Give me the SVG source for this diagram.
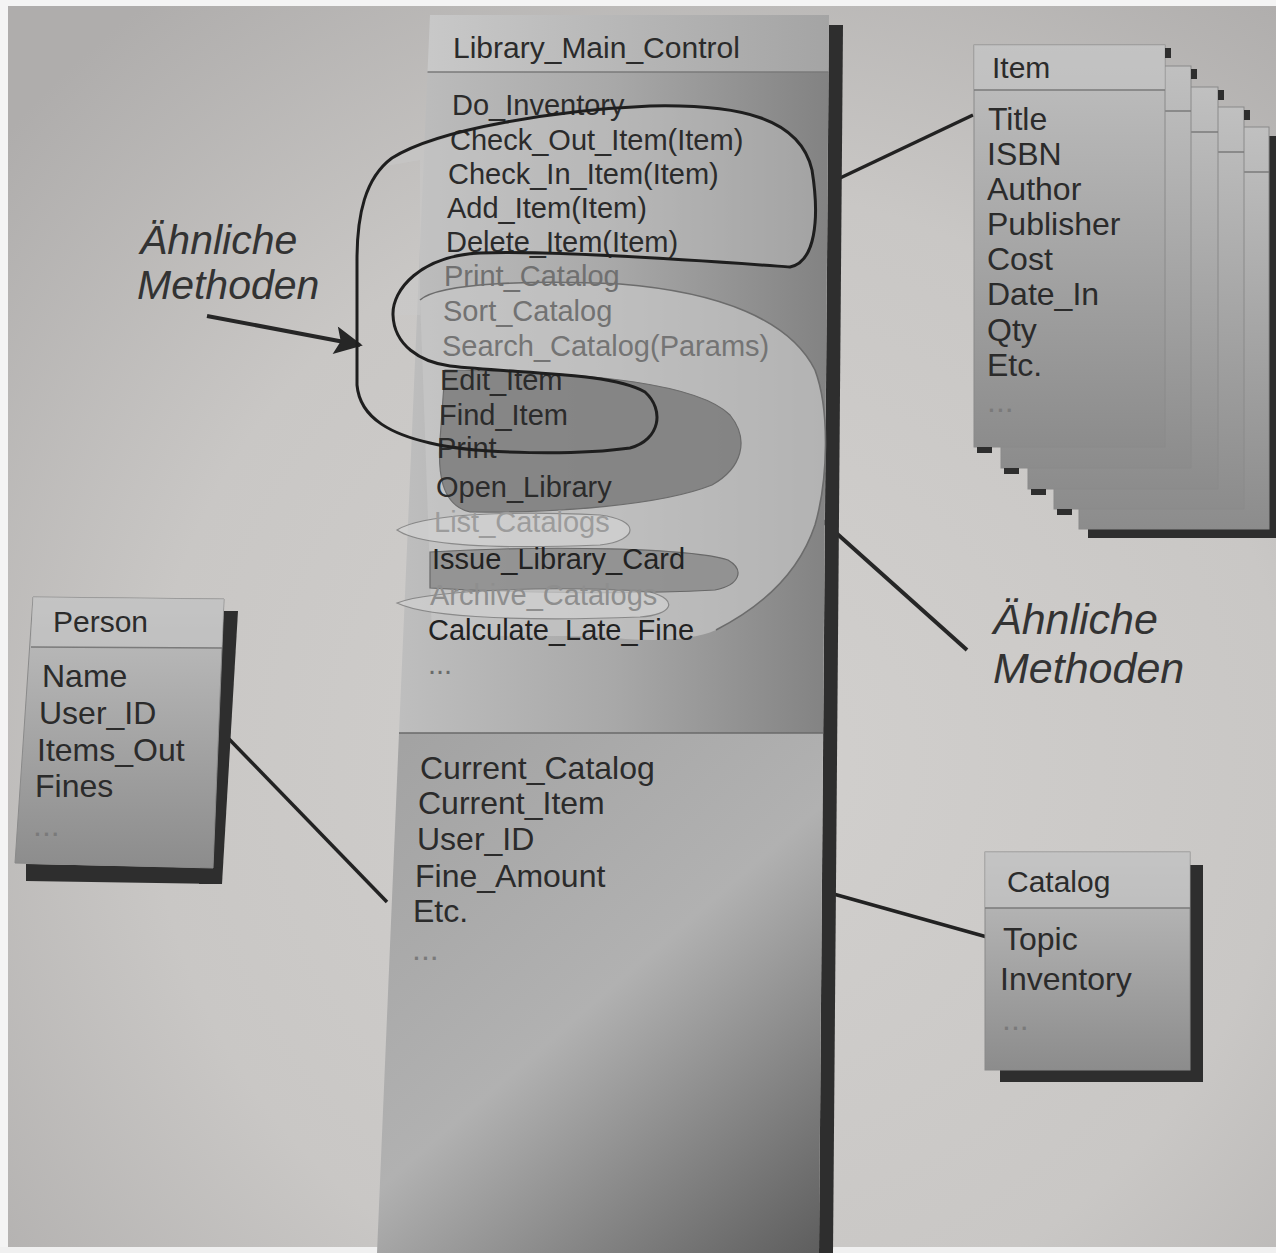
<svg xmlns="http://www.w3.org/2000/svg" width="1276" height="1253" viewBox="0 0 1276 1253">
<defs>
<radialGradient id="bg" gradientUnits="userSpaceOnUse" cx="720" cy="760" r="950">
<stop offset="0" stop-color="#d2d0ce"/><stop offset="0.6" stop-color="#c9c7c5"/><stop offset="1" stop-color="#afadac"/>
</radialGradient>
<linearGradient id="hdr" gradientUnits="userSpaceOnUse" x1="430" y1="0" x2="830" y2="0">
<stop offset="0" stop-color="#c8c8c8"/><stop offset="1" stop-color="#a4a4a4"/>
</linearGradient>
<linearGradient id="meth" gradientUnits="userSpaceOnUse" x1="400" y1="0" x2="830" y2="0">
<stop offset="0" stop-color="#bebebe"/><stop offset="0.5" stop-color="#a8a8a8"/><stop offset="1" stop-color="#828282"/>
</linearGradient>
<linearGradient id="attr" gradientUnits="userSpaceOnUse" x1="380" y1="733" x2="830" y2="1253">
<stop offset="0" stop-color="#a2a2a2"/><stop offset="0.5" stop-color="#b1b1b1"/><stop offset="1" stop-color="#5c5c5c"/>
</linearGradient>
<linearGradient id="card" x1="0" y1="0" x2="0" y2="1">
<stop offset="0" stop-color="#c0c0c0"/><stop offset="1" stop-color="#8c8c8c"/>
</linearGradient>
<marker id="ah" viewBox="0 0 10 10" refX="9" refY="5" markerWidth="8" markerHeight="7" orient="auto" markerUnits="strokeWidth">
<path d="M0,0 L10,5 L0,10 L2,5 Z" fill="#262626"/>
</marker>
<style>
.t{font-family:"Liberation Sans",Arial,sans-serif;fill:#2b2b2b}
.m{font-size:29px}
.a{font-size:32px}
.h{font-size:30px}
.lbl{font-size:41px;font-style:italic;fill:#333}
.sh{fill:#2e2e2e}
.sep{stroke:#7a7a7a;stroke-width:1.5;fill:none}
.con{stroke:#222;stroke-width:3.5;fill:none}
.edge{stroke:#8a8a8a;stroke-width:1;fill:url(#card)}
</style>
</defs>
<rect x="0" y="0" width="1276" height="1253" fill="url(#bg)"/>
<rect x="0" y="0" width="1276" height="6" fill="#f4f4f4"/>
<rect x="0" y="0" width="8" height="1253" fill="#f4f4f4"/>
<rect x="0" y="1247" width="1276" height="6" fill="#f0f0f0"/>

<g id="connectors">
<line class="con" x1="838" y1="179" x2="973" y2="115"/>
<line class="con" x1="229" y1="739" x2="387" y2="902"/>
<line class="con" x1="830" y1="893" x2="987" y2="937"/>
<line x1="207" y1="316" x2="360" y2="345" stroke="#262626" stroke-width="4" marker-end="url(#ah)"/>
<line x1="967" y1="650" x2="796" y2="497" stroke="#262626" stroke-width="4" marker-end="url(#ah)"/>
</g>

<g id="item">
<g id="item-card-4"><rect x="1088" y="136" width="192" height="402" class="sh"/><rect x="1079" y="127" width="190" height="402" class="edge"/><line class="sep" x1="1079" y1="172" x2="1269" y2="172"/></g>
<g id="item-card-3"><rect x="1054" y="107" width="190" height="402" class="edge"/><line class="sep" x1="1054" y1="152" x2="1244" y2="152"/><rect x="1244" y="110" width="6" height="10" class="sh"/><rect x="1057" y="509" width="15" height="6" class="sh"/></g>
<g id="item-card-2"><rect x="1028" y="87" width="190" height="402" class="edge"/><line class="sep" x1="1028" y1="132" x2="1218" y2="132"/><rect x="1218" y="90" width="6" height="10" class="sh"/><rect x="1031" y="489" width="15" height="6" class="sh"/></g>
<g id="item-card-1"><rect x="1001" y="66" width="190" height="402" class="edge"/><line class="sep" x1="1001" y1="111" x2="1191" y2="111"/><rect x="1191" y="69" width="6" height="10" class="sh"/><rect x="1004" y="468" width="15" height="6" class="sh"/></g>
<g id="item-card-0"><rect x="974" y="45" width="191" height="402" class="edge"/><rect x="1165" y="48" width="6" height="10" class="sh"/><rect x="977" y="447" width="15" height="6" class="sh"/>
<rect x="974" y="45" width="191" height="45" fill="#c4c4c4" opacity="0.6"/>
<line class="sep" x1="974" y1="90" x2="1165" y2="90"/>
<text class="t h" x="992" y="78">Item</text>
<text class="t a" x="988" y="130">Title</text>
<text class="t a" x="987" y="165">ISBN</text>
<text class="t a" x="987" y="200">Author</text>
<text class="t a" x="987" y="235">Publisher</text>
<text class="t a" x="987" y="270">Cost</text>
<text class="t a" x="987" y="305">Date_In</text>
<text class="t a" x="987" y="341">Qty</text>
<text class="t a" x="987" y="376">Etc.</text>
<text class="t a" x="987" y="412" style="fill:#7a7a7a">...</text>
</g>
</g>

<g id="person">
<polygon class="sh" points="213,611 238,611 222,884 199,884"/>
<polygon class="sh" points="26,864 222,868 222,884 26,881"/>
<polygon points="33,597 224,599 213,868 15,863" fill="url(#card)" stroke="#8a8a8a"/>
<polygon points="33,597 224,599 222,648 31,647" fill="#c6c6c6" opacity="0.6"/>
<line class="sep" x1="31" y1="647" x2="222" y2="648"/>
<text class="t h" x="53" y="632">Person</text>
<text class="t a" x="42" y="687">Name</text>
<text class="t a" x="39" y="724">User_ID</text>
<text class="t a" x="37" y="761">Items_Out</text>
<text class="t a" x="35" y="797">Fines</text>
<text class="t a" x="33" y="836" style="fill:#7a7a7a">...</text>
</g>

<g id="catalog">
<rect x="1190" y="865" width="13" height="217" class="sh"/>
<rect x="1000" y="1068" width="203" height="14" class="sh"/>
<rect x="985" y="852" width="205" height="218" fill="url(#card)" stroke="#8a8a8a"/>
<rect x="985" y="852" width="205" height="56" fill="#c6c6c6" opacity="0.6"/>
<line class="sep" x1="985" y1="908" x2="1190" y2="908"/>
<text class="t h" x="1007" y="892">Catalog</text>
<text class="t a" x="1003" y="950">Topic</text>
<text class="t a" x="1000" y="990">Inventory</text>
<text class="t a" x="1002" y="1030" style="fill:#7a7a7a">...</text>
</g>

<g id="library-main-control">
<polygon class="sh" points="829,25 843,25 833,1253 819,1253"/>
<polygon points="430,15 829,15 828.5,72 427.5,72" fill="url(#hdr)"/>
<polygon points="427.5,72 828.5,72 823,733 399,733" fill="url(#meth)"/>
<polygon points="399,733 823,733 819,1253 377,1253" fill="url(#attr)"/>
<line class="sep" x1="427.5" y1="72" x2="828.5" y2="72"/>
<line class="sep" x1="399" y1="733" x2="823" y2="733" style="stroke:#6a6a6a"/>
<path d="M 380,167 C 420,135 560,110 650,106 C 740,104 800,118 812,170 C 820,220 815,262 790,267 C 720,262 560,250 480,253 C 420,256 392,290 393,315 L 420,315 L 420,160 Z" fill="#cacaca" opacity="0.45"/>
<path d="M 420,300 C 440,282 540,280 620,284 C 720,292 790,320 815,370 C 830,410 828,480 815,525 C 800,570 765,605 716,630 C 690,642 640,642 600,636 L 432,636 C 428,520 424,400 420,300 Z" fill="#c8c8c8" opacity="0.7"/>
<path d="M 420,300 C 440,282 540,280 620,284 C 720,292 790,320 815,370 C 830,410 828,480 815,525 C 800,570 765,605 716,630" fill="none" stroke="#6c6c6c" stroke-width="1.6"/>
<path d="M 445,370 C 600,372 700,385 730,415 C 750,440 742,468 712,485 C 662,505 560,513 470,512 C 440,505 438,470 440,440 Z" fill="#7c7c7c" opacity="0.85" stroke="#5e5e5e" stroke-width="1.2"/>
<path d="M 397,530 C 420,515 500,510 600,515 C 640,520 640,540 600,545 C 500,549 420,546 397,530 Z" fill="#d2d2d2" opacity="0.75" stroke="#777" stroke-width="1.2"/>
<path d="M 430,552 C 550,545 690,548 728,560 C 745,570 740,585 715,590 C 620,595 500,592 430,588 Z" fill="#8c8c8c" opacity="0.85" stroke="#5a5a5a" stroke-width="1.2"/>
<path d="M 397,603 C 430,590 560,585 650,592 C 680,600 672,615 640,617 C 540,621 430,619 397,603 Z" fill="#d0d0d0" opacity="0.75" stroke="#777" stroke-width="1.2"/>
<text class="t h" x="453" y="58">Library_Main_Control</text>
<text class="t m" x="452" y="115">Do_Inventory</text>
<text class="t m" x="450" y="150">Check_Out_Item(Item)</text>
<text class="t m" x="448" y="184">Check_In_Item(Item)</text>
<text class="t m" x="447" y="218">Add_Item(Item)</text>
<text class="t m" x="446" y="252">Delete_Item(Item)</text>
<text class="t m" x="444" y="286" style="fill:#707070">Print_Catalog</text>
<text class="t m" x="443" y="321" style="fill:#727272">Sort_Catalog</text>
<text class="t m" x="442" y="356" style="fill:#747474">Search_Catalog(Params)</text>
<text class="t m" x="440" y="390">Edit_Item</text>
<text class="t m" x="439" y="425">Find_Item</text>
<text class="t m" x="437" y="458">Print</text>
<text class="t m" x="436" y="497">Open_Library</text>
<text class="t m" x="434" y="532" style="fill:#9c9c9c">List_Catalogs</text>
<text class="t m" x="432" y="569" style="fill:#222">Issue_Library_Card</text>
<text class="t m" x="430" y="605" style="fill:#8e8e8e">Archive_Catalogs</text>
<text class="t m" x="428" y="640" style="fill:#222">Calculate_Late_Fine</text>
<text class="t m" x="428" y="674" style="fill:#6a6a6a">...</text>
<text class="t a" x="420" y="779">Current_Catalog</text>
<text class="t a" x="418" y="814">Current_Item</text>
<text class="t a" x="417" y="850">User_ID</text>
<text class="t a" x="415" y="887">Fine_Amount</text>
<text class="t a" x="413" y="922">Etc.</text>
<text class="t a" x="412" y="960" style="fill:#7a7a7a">...</text>
<path d="M 392,158 C 440,128 560,110 650,106 C 740,104 800,118 812,170 C 820,220 815,262 790,267 C 720,262 560,250 480,253 C 420,256 392,290 393,315 C 394,345 420,362 450,366 C 520,374 610,372 645,392 C 665,410 660,440 630,448 C 580,455 480,455 430,443 C 395,435 360,420 357,385 L 357,260 C 357,215 365,178 392,158 Z" fill="none" stroke="#1e1e1e" stroke-width="3"/>
</g>

<g id="labels">
<text class="t lbl" x="140" y="254">Ähnliche</text>
<text class="t lbl" x="137" y="299">Methoden</text>
<text class="t lbl" x="993" y="634" style="font-size:43px">Ähnliche</text>
<text class="t lbl" x="993" y="683" style="font-size:43px">Methoden</text>
</g>
</svg>
